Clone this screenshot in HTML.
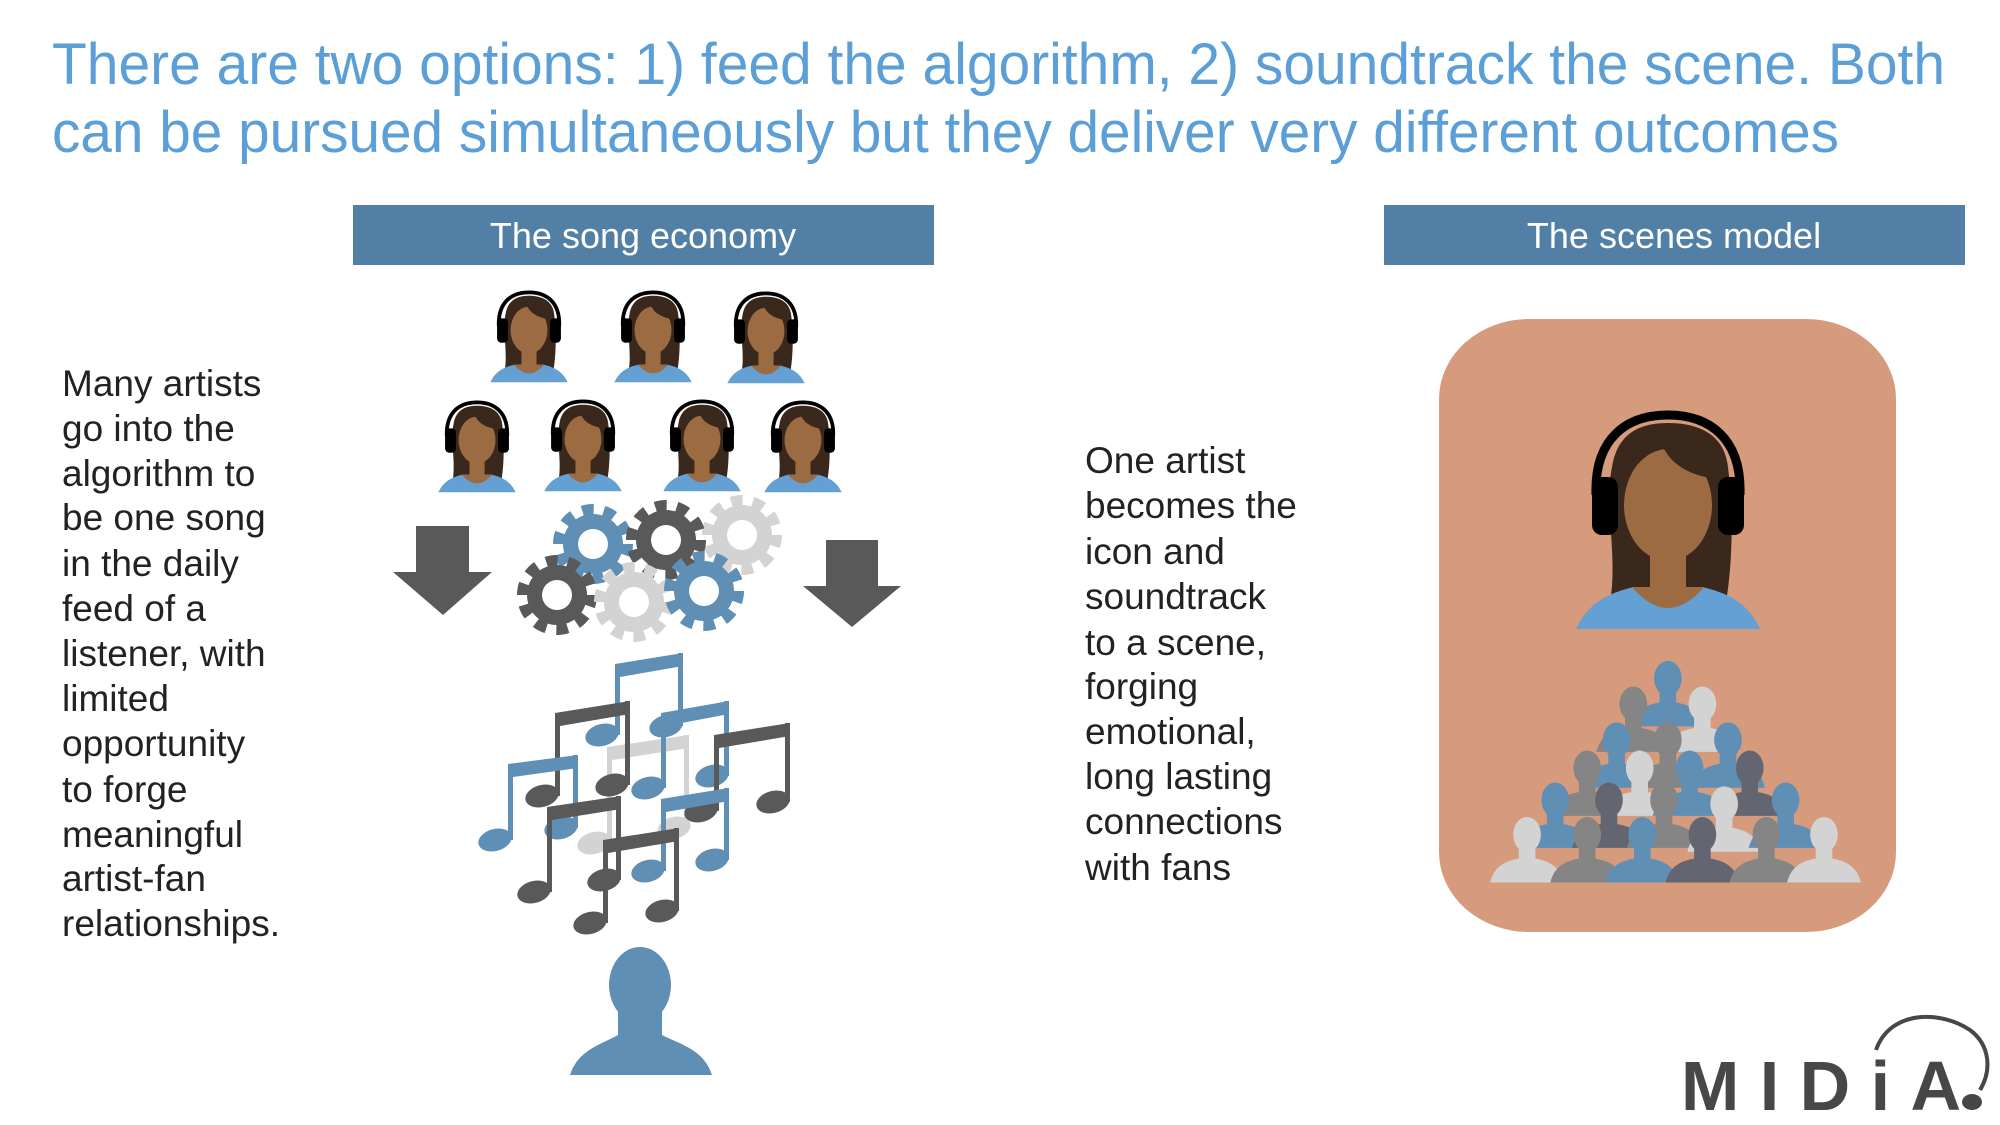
<!DOCTYPE html>
<html><head><meta charset="utf-8"><style>
html,body{margin:0;padding:0;background:#fff;width:2000px;height:1125px;overflow:hidden}
svg{display:block}
text{font-family:"Liberation Sans",Arial,sans-serif}
</style></head><body>
<svg width="2000" height="1125" viewBox="0 0 2000 1125" xmlns="http://www.w3.org/2000/svg">
<defs>
<symbol id="woman" overflow="visible">
  <path d="M-58,195 C-50,150 -64,100 -56,60 C-50,22 -22,16 0,16 C22,16 56,22 60,60 C66,110 64,160 58,195 Z" fill="#3a281c"/>
  <rect x="-18" y="125" width="36" height="60" fill="#9c6b42"/>
  <ellipse cx="0" cy="98" rx="44" ry="56" fill="#9c6b42"/>
  <path d="M-48,85 C-40,40 -10,30 -2,45 C10,65 35,70 48,72 C48,40 30,22 0,22 C-30,22 -50,45 -48,85 Z" fill="#3a281c"/>
  <path d="M-92,222 C-80,196 -60,186 -34,180 L34,180 C60,186 80,196 92,222 Z" fill="#64a0d3"/>
  <path d="M-36,180 Q0,222 36,180 Z" fill="#9c6b42"/>
  <path d="M-72,88 C-74,30 -40,8 0,8 C40,8 74,30 72,88" fill="none" stroke="#000" stroke-width="9"/>
  <rect x="-76" y="70" width="26" height="58" rx="10" fill="#000"/>
  <rect x="50" y="70" width="26" height="58" rx="10" fill="#000"/>
</symbol>
<symbol id="gear" overflow="visible">
  <circle r="30" fill="currentColor"/>
  <circle r="33" fill="none" stroke="currentColor" stroke-width="14" stroke-dasharray="11 9.7"/>
  <circle r="15" fill="#fff"/>
</symbol>
<symbol id="person" overflow="visible">
  <ellipse cx="0" cy="0" rx="15" ry="19" fill="currentColor"/>
  <rect x="-9" y="10" width="18" height="22" fill="currentColor"/>
  <path d="M-40,52 C-36,34 -22,28 -8,26 L8,26 C22,28 36,34 40,52 Z" fill="currentColor"/>
</symbol>
</defs>

<text x="52" y="84" font-size="58" fill="#5b9fd6" textLength="1893" lengthAdjust="spacingAndGlyphs">There are two options: 1) feed the algorithm, 2) soundtrack the scene. Both</text>
<text x="52" y="152" font-size="58" fill="#5b9fd6" textLength="1787" lengthAdjust="spacingAndGlyphs">can be pursued simultaneously but they deliver very different outcomes</text>

<rect x="353" y="205" width="581" height="60" fill="#517fa6"/>
<text x="643" y="248" font-size="36" fill="#fff" text-anchor="middle">The song economy</text>
<rect x="1384" y="205" width="581" height="60" fill="#517fa6"/>
<text x="1674" y="248" font-size="36" fill="#fff" text-anchor="middle">The scenes model</text>

<g font-size="37" fill="#222">
<text x="62" y="396">Many artists</text>
<text x="62" y="441">go into the</text>
<text x="62" y="486">algorithm to</text>
<text x="62" y="530">be one song</text>
<text x="62" y="576">in the daily</text>
<text x="62" y="621">feed of a</text>
<text x="62" y="666">listener, with</text>
<text x="62" y="711">limited</text>
<text x="62" y="756">opportunity</text>
<text x="62" y="802">to forge</text>
<text x="62" y="847">meaningful</text>
<text x="62" y="891">artist-fan</text>
<text x="62" y="936">relationships.</text>
</g>
<g font-size="37" fill="#222">
<text x="1085" y="473">One artist</text>
<text x="1085" y="518">becomes the</text>
<text x="1085" y="564">icon and</text>
<text x="1085" y="609">soundtrack</text>
<text x="1085" y="655">to a scene,</text>
<text x="1085" y="699">forging</text>
<text x="1085" y="744">emotional,</text>
<text x="1085" y="789">long lasting</text>
<text x="1085" y="834">connections</text>
<text x="1085" y="880">with fans</text>
</g>

<g transform="translate(529,289) scale(0.42)"><use href="#woman"/></g>
<g transform="translate(653,289) scale(0.42)"><use href="#woman"/></g>
<g transform="translate(766,290) scale(0.42)"><use href="#woman"/></g>
<g transform="translate(477,399) scale(0.42)"><use href="#woman"/></g>
<g transform="translate(583,398) scale(0.42)"><use href="#woman"/></g>
<g transform="translate(702,398) scale(0.42)"><use href="#woman"/></g>
<g transform="translate(803,399) scale(0.42)"><use href="#woman"/></g>

<path d="M416,526 H469 V572 H492 L443,615 L393,572 H416 Z" fill="#595959"/>
<path d="M826,540 H878 V586 H901 L852,627 L803,586 H826 Z" fill="#595959"/>

<g color="#d3d3d3"><use href="#gear" transform="translate(742,535)"/></g>
<g color="#5f8fb4"><use href="#gear" transform="translate(593,544)"/></g>
<g color="#595959"><use href="#gear" transform="translate(666,540)"/></g>
<g color="#595959"><use href="#gear" transform="translate(557,595)"/></g>
<g color="#d3d3d3"><use href="#gear" transform="translate(634,602)"/></g>
<g color="#5f8fb4"><use href="#gear" transform="translate(704,591)"/></g>

<g>
<g fill="#d3d3d3"><path d="M607,747 L689,735 L689,748 L612,760 L612,843 L607,843 Z M684,735 h5 v93 h-5 Z"/><ellipse cx="594" cy="843" rx="17" ry="11" transform="rotate(-15 594 843)"/><ellipse cx="674" cy="828" rx="17" ry="11" transform="rotate(-15 674 828)"/></g>
<g fill="#5f8fb4"><path d="M615,664 L683,653 L683,666 L620,677 L620,735 L615,735 Z M678,653 h5 v73 h-5 Z"/><ellipse cx="602" cy="735" rx="17" ry="11" transform="rotate(-15 602 735)"/><ellipse cx="666" cy="726" rx="17" ry="11" transform="rotate(-15 666 726)"/></g>
<g fill="#595959"><path d="M555,713 L630,701 L630,714 L560,726 L560,796 L555,796 Z M625,701 h5 v84 h-5 Z"/><ellipse cx="542" cy="796" rx="17" ry="11" transform="rotate(-15 542 796)"/><ellipse cx="612" cy="785" rx="17" ry="11" transform="rotate(-15 612 785)"/></g>
<g fill="#5f8fb4"><path d="M661,713 L729,701 L729,714 L666,726 L666,788 L661,788 Z M724,701 h5 v75 h-5 Z"/><ellipse cx="648" cy="788" rx="17" ry="11" transform="rotate(-15 648 788)"/><ellipse cx="712" cy="776" rx="17" ry="11" transform="rotate(-15 712 776)"/></g>
<g fill="#5f8fb4"><path d="M508,764 L578,755 L578,768 L513,777 L513,840 L508,840 Z M573,755 h5 v73 h-5 Z"/><ellipse cx="495" cy="840" rx="17" ry="11" transform="rotate(-15 495 840)"/><ellipse cx="561" cy="828" rx="17" ry="11" transform="rotate(-15 561 828)"/></g>
<g fill="#595959"><path d="M714,735 L790,723 L790,736 L719,748 L719,811 L714,811 Z M785,723 h5 v79 h-5 Z"/><ellipse cx="701" cy="811" rx="17" ry="11" transform="rotate(-15 701 811)"/><ellipse cx="773" cy="802" rx="17" ry="11" transform="rotate(-15 773 802)"/></g>
<g fill="#595959"><path d="M547,807 L621,796 L621,809 L552,820 L552,892 L547,892 Z M616,796 h5 v84 h-5 Z"/><ellipse cx="534" cy="892" rx="17" ry="11" transform="rotate(-15 534 892)"/><ellipse cx="604" cy="880" rx="17" ry="11" transform="rotate(-15 604 880)"/></g>
<g fill="#5f8fb4"><path d="M661,799 L729,788 L729,801 L666,812 L666,871 L661,871 Z M724,788 h5 v72 h-5 Z"/><ellipse cx="648" cy="871" rx="17" ry="11" transform="rotate(-15 648 871)"/><ellipse cx="712" cy="860" rx="17" ry="11" transform="rotate(-15 712 860)"/></g>
<g fill="#595959"><path d="M603,840 L679,828 L679,841 L608,853 L608,923 L603,923 Z M674,828 h5 v83 h-5 Z"/><ellipse cx="590" cy="923" rx="17" ry="11" transform="rotate(-15 590 923)"/><ellipse cx="662" cy="911" rx="17" ry="11" transform="rotate(-15 662 911)"/></g>
</g>

<g fill="#5f8fb4">
<ellipse cx="640" cy="985" rx="31" ry="38"/>
<path d="M618,1010 L618,1035 C600,1045 578,1050 570,1075 L712,1075 C704,1050 682,1045 662,1035 L662,1010 Z"/>
</g>

<rect x="1439" y="319" width="457" height="613" rx="90" ry="80" fill="#d59b7c"/>
<g transform="translate(1668,407)"><use href="#woman"/></g>

<g transform="scale(1.28)">
<g color="#5f8fb4"><use href="#person" transform="translate(1303,530) scale(0.72)"/></g>
<g color="#858585"><use href="#person" transform="translate(1276,550) scale(0.72)"/></g>
<g color="#d3d3d3"><use href="#person" transform="translate(1330,550) scale(0.72)"/></g>
<g color="#5f8fb4"><use href="#person" transform="translate(1263,578) scale(0.72)"/></g>
<g color="#858585"><use href="#person" transform="translate(1303,578) scale(0.72)"/></g>
<g color="#5f8fb4"><use href="#person" transform="translate(1350,578) scale(0.72)"/></g>
<g color="#858585"><use href="#person" transform="translate(1240,600) scale(0.72)"/></g>
<g color="#d3d3d3"><use href="#person" transform="translate(1281,600) scale(0.72)"/></g>
<g color="#5f8fb4"><use href="#person" transform="translate(1320,600) scale(0.72)"/></g>
<g color="#636670"><use href="#person" transform="translate(1367,600) scale(0.72)"/></g>
<g color="#5f8fb4"><use href="#person" transform="translate(1215,625) scale(0.72)"/></g>
<g color="#636670"><use href="#person" transform="translate(1257,625) scale(0.72)"/></g>
<g color="#858585"><use href="#person" transform="translate(1300,625) scale(0.72)"/></g>
<g color="#d3d3d3"><use href="#person" transform="translate(1347,628) scale(0.72)"/></g>
<g color="#5f8fb4"><use href="#person" transform="translate(1395,625) scale(0.72)"/></g>
<g color="#d3d3d3"><use href="#person" transform="translate(1193,652) scale(0.72)"/></g>
<g color="#858585"><use href="#person" transform="translate(1240,652) scale(0.72)"/></g>
<g color="#5f8fb4"><use href="#person" transform="translate(1283,652) scale(0.72)"/></g>
<g color="#636670"><use href="#person" transform="translate(1330,652) scale(0.72)"/></g>
<g color="#858585"><use href="#person" transform="translate(1380,652) scale(0.72)"/></g>
<g color="#d3d3d3"><use href="#person" transform="translate(1425,652) scale(0.72)"/></g>
</g>

<text x="1681" y="1110" font-size="70" font-weight="bold" fill="#474747" textLength="280" lengthAdjust="spacing">MIDiA</text>
<path d="M1876,1050 C1890,1010 1940,1010 1970,1030 C1990,1045 1992,1070 1980,1090" fill="none" stroke="#474747" stroke-width="4"/>
<ellipse cx="1972" cy="1102" rx="10" ry="8" fill="#474747"/>
</svg>
</body></html>
